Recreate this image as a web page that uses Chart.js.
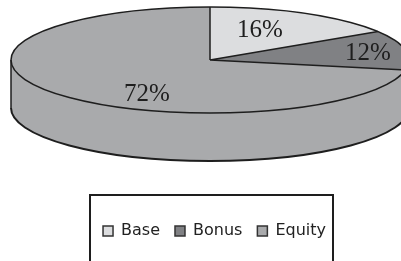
<!DOCTYPE html>
<html>
<head>
<meta charset="utf-8">
<script src="https://cdn.jsdelivr.net/npm/chart.js@4.4.0/dist/chart.umd.min.js"></script>
<style>
  body { margin: 0; background: #fff; }
  #wrap { width: 401px; height: 261px; position: relative; }
</style>
</head>
<body>
<div id="wrap"><canvas id="chart"></canvas></div>
<script>
// data
var categories = ['Base', 'Bonus', 'Equity'];
var shares = [16, 12, 72];
var sliceColors = ['#dcdddf', '#808184', '#a9aaac'];

// where the tilted pie sits on the page
var CX = 210, CY = 60, RX = 199, RY = 53, DEPTH = 48;
var LABEL_XY = [[260, 30], [368, 53], [147, 94]];
var INK = '#1e1e1e';

function ellPt(a, dy) {
    return [CX + RX * Math.cos(a), CY + dy + RY * Math.sin(a)];
}

var pie3d = {
    id: 'pie3d',
    beforeDatasetsDraw: function (chart) {
        var ctx = chart.ctx;
        var arcs = chart.getDatasetMeta(0).data;

        // side wall, only the front half shows
        arcs.forEach(function (arc, i) {
            var a = Math.max(arc.startAngle, 0);
            var b = Math.min(arc.endAngle, Math.PI);
            if (b <= a) return;
            var p = ellPt(a, 0), q = ellPt(b, DEPTH);
            ctx.beginPath();
            ctx.moveTo(p[0], p[1]);
            ctx.ellipse(CX, CY, RX, RY, 0, a, b);
            ctx.lineTo(q[0], q[1]);
            ctx.ellipse(CX, CY + DEPTH, RX, RY, 0, b, a, true);
            ctx.closePath();
            ctx.fillStyle = sliceColors[i];
            ctx.fill();
        });

        // squash the round pie into the top face
        var first = arcs[0];
        ctx.save();
        ctx.translate(CX, CY);
        ctx.scale(RX / first.outerRadius, RY / first.outerRadius);
        ctx.translate(-first.x, -first.y);
    },
    afterDatasetsDraw: function (chart) {
        var ctx = chart.ctx;
        ctx.restore();
        var arcs = chart.getDatasetMeta(0).data;

        ctx.save();
        ctx.strokeStyle = INK;
        ctx.lineWidth = 1.5;
        ctx.beginPath();
        ctx.ellipse(CX, CY, RX, RY, 0, 0, Math.PI * 2);
        ctx.stroke();
        ctx.beginPath();
        ctx.moveTo(CX - RX, CY); ctx.lineTo(CX - RX, CY + DEPTH);
        ctx.moveTo(CX + RX, CY); ctx.lineTo(CX + RX, CY + DEPTH);
        arcs.forEach(function (arc) {
            var p = ellPt(arc.startAngle, 0);
            ctx.moveTo(CX, CY);
            ctx.lineTo(p[0], p[1]);
        });
        ctx.stroke();
        ctx.lineWidth = 2;
        ctx.beginPath();
        ctx.ellipse(CX, CY + DEPTH, RX, RY, 0, 0, Math.PI);
        ctx.stroke();

        // percent labels
        var total = shares.reduce(function (s, v) { return s + v; }, 0);
        ctx.fillStyle = INK;
        ctx.font = '25px "Liberation Serif", "Times New Roman", serif';
        ctx.textAlign = 'center';
        ctx.textBaseline = 'middle';
        shares.forEach(function (v, i) {
            var txt = Math.round(v / total * 100) + '%';
            ctx.fillText(txt, LABEL_XY[i][0], LABEL_XY[i][1]);
        });
        ctx.restore();
    },
    afterDraw: function (chart) {
        // frame round the legend
        var ctx = chart.ctx;
        ctx.save();
        ctx.strokeStyle = INK;
        ctx.lineWidth = 2;
        ctx.strokeRect(90, 195, 243, 80);
        ctx.restore();
    }
};

var ctx = document.getElementById('chart');
var myChart = new Chart(ctx, {
    type: 'pie',
    data: {
        labels: categories,
        datasets: [{
            data: shares,
            backgroundColor: sliceColors,
            borderWidth: 0,
            clip: false
        }]
    },
    plugins: [pie3d],
    options: {
        responsive: true,
        maintainAspectRatio: false,
        animation: false,
        events: [],
        layout: {
            padding: { left: 28, bottom: 12 }
        },
        plugins: {
            tooltip: { enabled: false },
            legend: {
                position: 'bottom',
                labels: {
                    boxWidth: 10,
                    boxHeight: 10,
                    padding: 15,
                    color: '#222',
                    font: { family: '"DejaVu Sans", sans-serif', size: 16 },
                    generateLabels: function (chart) {
                        var items = Chart.overrides.pie.plugins.legend.labels.generateLabels(chart);
                        items.forEach(function (it) {
                            it.strokeStyle = '#333';
                            it.lineWidth = 1.5;
                        });
                        return items;
                    }
                }
            }
        }
    }
});
</script>
</body>
</html>
